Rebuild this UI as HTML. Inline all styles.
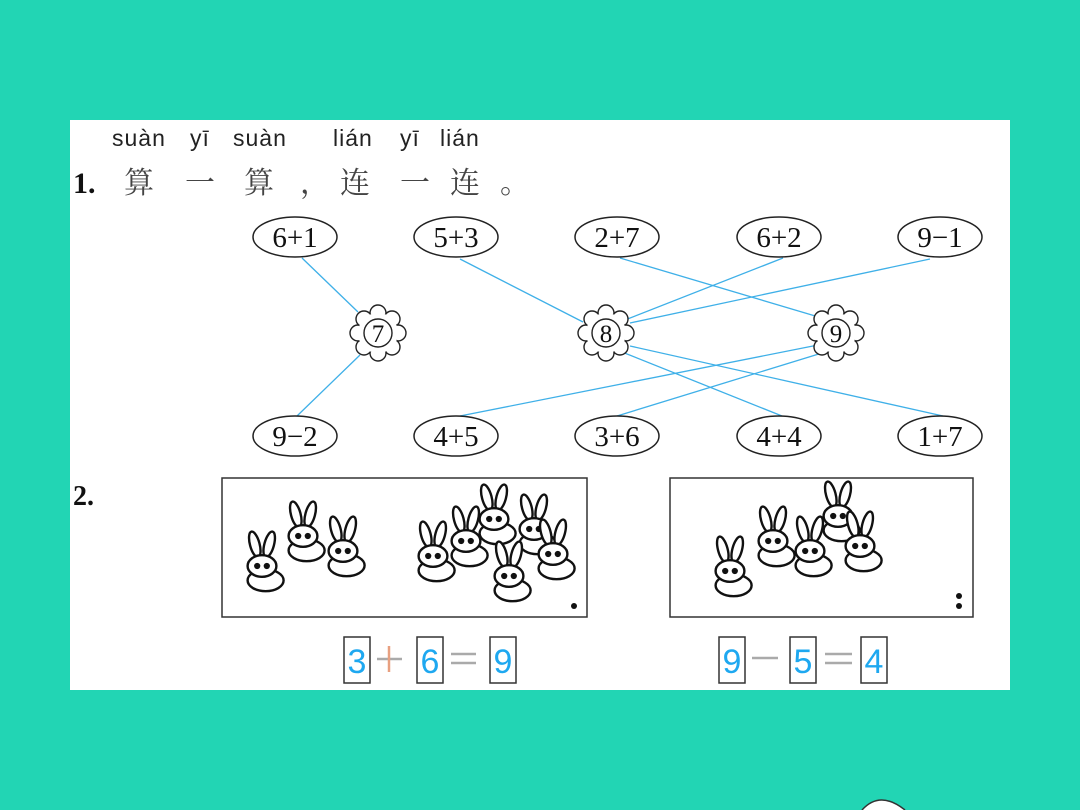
<!DOCTYPE html>
<html><head><meta charset="utf-8"><style>
html,body{margin:0;padding:0;}
body{width:1080px;height:810px;background:#22d5b4;position:relative;overflow:hidden;font-family:"Liberation Serif","Noto Serif CJK SC",serif;}
#panel{position:absolute;left:70px;top:120px;width:940px;height:570px;background:#fff;}
svg{position:absolute;left:0;top:0;}
</style></head><body>
<div id="panel"></div>
<svg width="1080" height="810" viewBox="0 0 1080 810">
<defs>
<symbol id="r" viewBox="-20 -30 40 50" overflow="visible">
<g fill="#fff" stroke="#111" stroke-width="2">
<ellipse cx="-6" cy="-18" rx="4" ry="11" transform="rotate(-15 -6 -18)"/>
<ellipse cx="6" cy="-18" rx="4" ry="11" transform="rotate(15 6 -18)"/>
<ellipse cx="3" cy="12" rx="15" ry="9"/>
<ellipse cx="0" cy="0" rx="12" ry="9"/>
<circle cx="-4" cy="0" r="1.6" fill="#111"/><circle cx="4" cy="0" r="1.6" fill="#111"/>
</g>
</symbol>
</defs>
<g font-family="Liberation Sans, sans-serif" font-size="23" fill="#222" letter-spacing="1">
<text x="112" y="146">suàn</text><text x="190" y="146">yī</text><text x="233" y="146">suàn</text>
<text x="333" y="146">lián</text><text x="400" y="146">yī</text><text x="440" y="146">lián</text>
</g>
<text x="73" y="193" font-size="30" font-weight="bold" fill="#111">1.</text>
<g font-size="30" fill="#444" font-family="Noto Serif CJK SC, serif">
<text x="124" y="193">算</text><text x="185" y="193">一</text><text x="244" y="193">算</text>
<text x="300" y="193">，</text><text x="340" y="193">连</text><text x="400" y="193">一</text>
<text x="450" y="193">连</text><text x="500" y="193">。</text>
</g>
<g stroke="#3fb0e8" stroke-width="1.3">
<line x1="302" y1="258" x2="358" y2="312"/>
<line x1="360" y1="355" x2="297" y2="416"/>
<line x1="460" y1="259" x2="583" y2="322"/>
<line x1="620" y1="258" x2="822" y2="318"/>
<line x1="783" y1="258" x2="625" y2="320"/>
<line x1="930" y1="259" x2="630" y2="323"/>
<line x1="818" y1="345" x2="460" y2="416"/>
<line x1="822" y1="353" x2="617" y2="416"/>
<line x1="622" y1="352" x2="782" y2="416"/>
<line x1="630" y1="346" x2="943" y2="416"/>
</g>
<g fill="#fff" stroke="#222" stroke-width="1.5">
<ellipse cx="295" cy="237" rx="42" ry="20"/><ellipse cx="456" cy="237" rx="42" ry="20"/><ellipse cx="617" cy="237" rx="42" ry="20"/><ellipse cx="779" cy="237" rx="42" ry="20"/><ellipse cx="940" cy="237" rx="42" ry="20"/>
<ellipse cx="295" cy="436" rx="42" ry="20"/><ellipse cx="456" cy="436" rx="42" ry="20"/><ellipse cx="617" cy="436" rx="42" ry="20"/><ellipse cx="779" cy="436" rx="42" ry="20"/><ellipse cx="940" cy="436" rx="42" ry="20"/>
</g>
<g font-size="29" fill="#111" text-anchor="middle">
<text x="295" y="247">6+1</text><text x="456" y="247">5+3</text><text x="617" y="247">2+7</text><text x="779" y="247">6+2</text><text x="940" y="247">9−1</text>
<text x="295" y="446">9−2</text><text x="456" y="446">4+5</text><text x="617" y="446">3+6</text><text x="779" y="446">4+4</text><text x="940" y="446">1+7</text>
</g>
<g fill="#fff" stroke="#222" stroke-width="1.4">
<g transform="translate(378,333)"><circle r="20" stroke-dasharray="9 3"/><g id="fl"><circle cx="0" cy="-20" r="8"/><circle cx="14" cy="-14" r="8"/><circle cx="20" cy="0" r="8"/><circle cx="14" cy="14" r="8"/><circle cx="0" cy="20" r="8"/><circle cx="-14" cy="14" r="8"/><circle cx="-20" cy="0" r="8"/><circle cx="-14" cy="-14" r="8"/></g><circle r="20" stroke="none"/><circle r="14"/></g>
<g transform="translate(606,333)"><use href="#fl"/><circle r="20" stroke="none"/><circle r="14"/></g>
<g transform="translate(836,333)"><use href="#fl"/><circle r="20" stroke="none"/><circle r="14"/></g>
</g>
<g font-size="25" fill="#111" text-anchor="middle"><text x="378" y="342">7</text><text x="606" y="342">8</text><text x="836" y="342">9</text></g>
<text x="73" y="505" font-size="28" font-weight="bold" fill="#111">2.</text>
<rect x="222" y="478" width="365" height="139" fill="#fff" stroke="#333" stroke-width="1.5"/>
<rect x="670" y="478" width="303" height="139" fill="#fff" stroke="#333" stroke-width="1.5"/>
<g>
<use href="#r" x="238" y="530" width="48" height="60"/>
<use href="#r" x="279" y="500" width="48" height="60"/>
<use href="#r" x="319" y="515" width="48" height="60"/>
<use href="#r" x="409" y="520" width="48" height="60"/>
<use href="#r" x="442" y="505" width="48" height="60"/>
<use href="#r" x="470" y="483" width="48" height="60"/>
<use href="#r" x="510" y="493" width="48" height="60"/>
<use href="#r" x="485" y="540" width="48" height="60"/>
<use href="#r" x="529" y="518" width="48" height="60"/>
<use href="#r" x="706" y="535" width="48" height="60"/>
<use href="#r" x="749" y="505" width="48" height="60"/>
<use href="#r" x="786" y="515" width="48" height="60"/>
<use href="#r" x="814" y="480" width="48" height="60"/>
<use href="#r" x="836" y="510" width="48" height="60"/>
</g>
<circle cx="574" cy="606" r="3" fill="#111"/>
<circle cx="959" cy="596" r="3" fill="#111"/><circle cx="959" cy="606" r="3" fill="#111"/>
<g fill="#fff" stroke="#333" stroke-width="1.5">
<rect x="344" y="637" width="26" height="46"/><rect x="417" y="637" width="26" height="46"/><rect x="490" y="637" width="26" height="46"/>
<rect x="719" y="637" width="26" height="46"/><rect x="790" y="637" width="26" height="46"/><rect x="861" y="637" width="26" height="46"/>
</g>
<g font-family="Liberation Sans, sans-serif" font-size="34" fill="#1ea8f0" text-anchor="middle">
<text x="357" y="673">3</text><text x="430" y="673">6</text><text x="503" y="673">9</text>
<text x="732" y="673">9</text><text x="803" y="673">5</text><text x="874" y="673">4</text>
</g>
<g stroke="#aaa" stroke-width="2.5">
<line x1="377" y1="659" x2="402" y2="659"/><line x1="389" y1="646" x2="389" y2="672" stroke="#e8a080"/>
<line x1="451" y1="654" x2="476" y2="654"/><line x1="451" y1="663" x2="476" y2="663"/>
<line x1="752" y1="658" x2="778" y2="658"/>
<line x1="825" y1="654" x2="852" y2="654"/><line x1="825" y1="663" x2="852" y2="663"/>
</g>
<path d="M862 810 Q880 790 905 810" fill="#fff" stroke="#333" stroke-width="1.5"/>
</svg>
</body></html>
